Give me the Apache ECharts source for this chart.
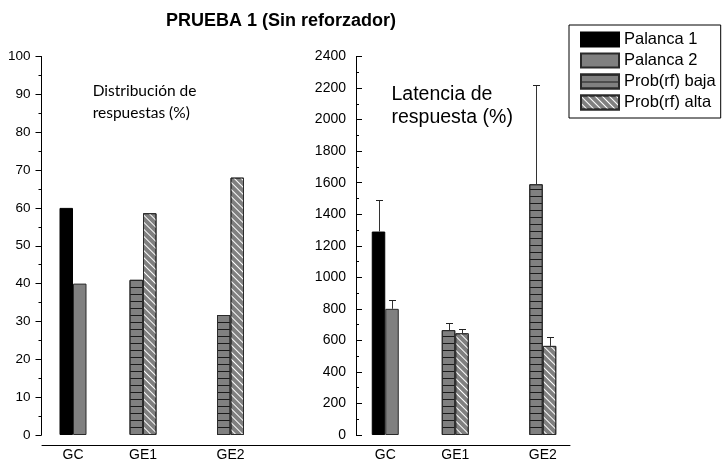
<!DOCTYPE html>
<html>
<head>
<meta charset="utf-8">
<script src="https://cdn.jsdelivr.net/npm/echarts@6/dist/echarts.min.js"></script>
<style>html,body{margin:0;padding:0;background:#fff;}#c{width:723px;height:462px;}</style>
</head>
<body>
<div id="c"></div>
<script>
// ---- data ----
const categories = ['GC', 'GE1', 'GE2'];
const seriesNames = ['Palanca 1', 'Palanca 2', 'Prob(rf) baja', 'Prob(rf) alta'];
// Distribución de respuestas (%)
const distPalanca1 = [60, null, null];
const distPalanca2 = [40, null, null];
const distBaja = [null, 41, 31.7];
const distAlta = [null, 58.6, 68];
// Latencia de respuesta (%)
const latPalanca1 = [1290, null, null];
const latPalanca2 = [800, null, null];
const latBaja = [null, 665, 1590];
const latAlta = [null, 645, 565];
// upper end of error bars
const latPalanca1Err = [1490, null, null];
const latPalanca2Err = [855, null, null];
const latBajaErr = [null, 710, 2220];
const latAltaErr = [null, 670, 620];
const leftTicks = {min: 0, max: 100, interval: 10};
const rightTicks = {min: 0, max: 2400, interval: 200};

// ---- layout (slot positions on the category axis) ----
const SLOTS = 13;
const slotOf = [1, 5, 10];
const BAR_W = 13.5;
const FONT = "'Liberation Sans', Arial, sans-serif";

function axisData() {
  const a = new Array(SLOTS).fill('');
  categories.forEach((c, i) => a[slotOf[i]] = c);
  return a;
}
function spread(arr) {
  const a = new Array(SLOTS).fill('-');
  arr.forEach((v, i) => { if (v !== null) a[slotOf[i]] = v; });
  return a;
}
function errData(vals, errs, side) {
  const out = [];
  vals.forEach((v, i) => { if (v !== null) out.push([slotOf[i], v, errs[i], side]); });
  return out;
}

const GRAY = '#808080';
const BORDER = '#2a2a2a';
const styles = {
  'Palanca 1': {color: '#000', borderColor: '#000', borderWidth: 1},
  'Palanca 2': {color: GRAY, borderColor: BORDER, borderWidth: 1},
  'Prob(rf) baja': {color: GRAY, borderColor: BORDER, borderWidth: 1,
    decal: {symbol: 'rect', symbolSize: 1, color: '#1a1a1a', dashArrayX: [[1, 0]], dashArrayY: [1, 6], rotation: 0}},
  'Prob(rf) alta': {color: GRAY, borderColor: BORDER, borderWidth: 1,
    decal: {symbol: 'rect', symbolSize: 1, color: '#ffffff', dashArrayX: [[1, 0]], dashArrayY: [1, 4], rotation: Math.PI / 4}}
};
const stacks = {'Palanca 1': 'L', 'Prob(rf) baja': 'L', 'Palanca 2': 'R', 'Prob(rf) alta': 'R'};

function barSeries(name, data, gi) {
  return {
    name: name, type: 'bar', xAxisIndex: gi, yAxisIndex: gi, stack: stacks[name] + gi,
    barWidth: BAR_W, barGap: '0%', data: spread(data), itemStyle: styles[name],
    emphasis: {disabled: true}, animation: false
  };
}

function xAxisFor(gi) {
  return {
    type: 'category', gridIndex: gi, data: axisData(), boundaryGap: true,
    axisLine: {show: false}, axisTick: {show: false},
    axisLabel: {interval: 0, margin: 13, color: '#000', fontSize: 14, fontFamily: FONT}
  };
}

const errSeries = {
  type: 'custom', name: 'err', xAxisIndex: 1, yAxisIndex: 1, z: 5, animation: false,
  data: [].concat(
    errData(latPalanca1, latPalanca1Err, -1), errData(latPalanca2, latPalanca2Err, 1),
    errData(latBaja, latBajaErr, -1), errData(latAlta, latAltaErr, 1)),
  renderItem: function (params, api) {
    const idx = api.value(0), v = api.value(1), e = api.value(2), side = api.value(3);
    const p0 = api.coord([idx, v]);
    const p1 = api.coord([idx, e]);
    const x = Math.round(p0[0] + side * BAR_W / 2) + 0.5;
    const yt = Math.round(p1[1]) + 0.5;
    const cap = 3.5;
    return {type: 'group', children: [
      {type: 'line', shape: {x1: x, y1: p0[1], x2: x, y2: yt}, style: {stroke: '#333', lineWidth: 1}},
      {type: 'line', shape: {x1: x - cap, y1: yt, x2: x + cap, y2: yt}, style: {stroke: '#222', lineWidth: 1}}
    ]};
  }
};

const chart = echarts.init(document.getElementById('c'), null, {renderer: 'canvas'});
chart.setOption({
  backgroundColor: '#fff',
  animation: false,
  legend: {
    data: seriesNames, orient: 'vertical', left: 569, top: 25,
    padding: [6, 5, 7, 11], itemWidth: 38, itemHeight: 14, itemGap: 4,
    borderColor: '#000', borderWidth: 1, borderRadius: 0, icon: 'rect',
    textStyle: {fontSize: 16.5, fontFamily: FONT, color: '#000'},
    selectedMode: false
  },
  grid: [
    {left: 46.75, top: 56.5, width: SLOTS * 17.5, height: 379.5},
    {left: 359, top: 56.5, width: SLOTS * 17.5, height: 379.5},
    {left: 42, top: 440, width: 528, height: 5}
  ],
  xAxis: [
    xAxisFor(0), xAxisFor(1),
    {type: 'value', gridIndex: 2, min: 0, max: 1, axisLine: {show: true, lineStyle: {color: '#000', width: 1}},
     axisTick: {show: false}, axisLabel: {show: false}, splitLine: {show: false}}
  ],
  yAxis: [
    {type: 'value', gridIndex: 0, min: leftTicks.min, max: leftTicks.max, interval: leftTicks.interval, offset: 5.25,
     axisLine: {show: true, lineStyle: {color: '#000'}},
     axisTick: {show: true, inside: false, length: 6, lineStyle: {color: '#000'}},
     minorTick: {show: true, splitNumber: 2, length: 3, lineStyle: {color: '#000'}},
     splitLine: {show: false},
     axisLabel: {margin: 11, color: '#000', fontSize: 13.5, fontFamily: FONT, formatter: v => String(v)}},
    {type: 'value', gridIndex: 1, min: rightTicks.min, max: rightTicks.max, interval: rightTicks.interval, offset: 3,
     axisLine: {show: true, lineStyle: {color: '#000'}},
     axisTick: {show: true, inside: true, length: 6, lineStyle: {color: '#000'}},
     minorTick: {show: true, splitNumber: 2, length: 3, lineStyle: {color: '#000'}},
     splitLine: {show: false},
     axisLabel: {margin: 10, color: '#000', fontSize: 14, fontFamily: FONT, formatter: v => String(v)}},
    {type: 'value', gridIndex: 2, show: false, min: 0, max: 1}
  ],
  graphic: [
    {type: 'text', x: 281, y: 21, style: {text: 'PRUEBA 1 (Sin reforzador)', textAlign: 'center', textVerticalAlign: 'middle',
      font: "bold 18px 'Liberation Sans', Arial, sans-serif", fill: '#000'}},
    {type: 'text', x: 92.7, y: 79.5, style: {text: 'Distribución de\nrespuestas (%)', textAlign: 'left', textVerticalAlign: 'top',
      font: "15.5px Lato, 'Open Sans', sans-serif", lineHeight: 22.6, fill: '#000'}},
    {type: 'text', x: 391.5, y: 83.6, style: {text: 'Latencia de\nrespuesta (%)', textAlign: 'left', textVerticalAlign: 'top',
      font: "19.5px 'Liberation Sans', Arial, sans-serif", lineHeight: 22.7, fill: '#000'}}
  ],
  series: [
    barSeries('Palanca 1', distPalanca1, 0),
    barSeries('Palanca 2', distPalanca2, 0),
    barSeries('Prob(rf) baja', distBaja, 0),
    barSeries('Prob(rf) alta', distAlta, 0),
    barSeries('Palanca 1', latPalanca1, 1),
    barSeries('Palanca 2', latPalanca2, 1),
    barSeries('Prob(rf) baja', latBaja, 1),
    barSeries('Prob(rf) alta', latAlta, 1),
    errSeries
  ]
});
</script>
</body>
</html>
